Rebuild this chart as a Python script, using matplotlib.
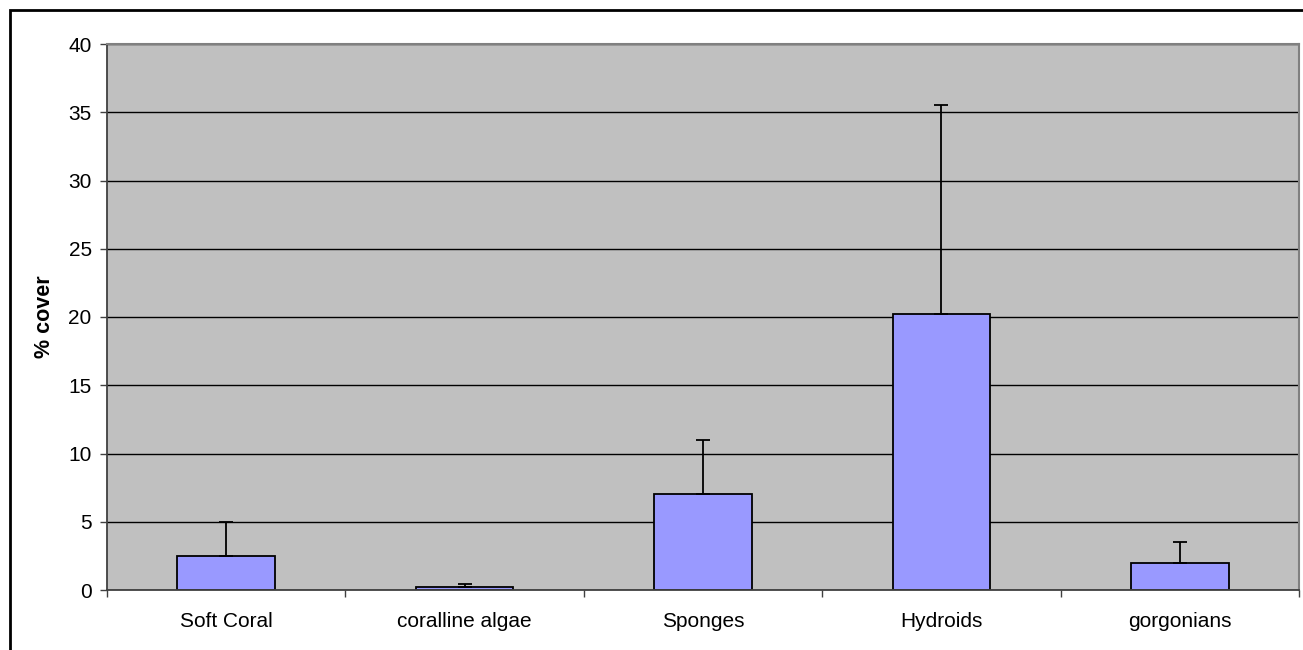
import matplotlib
matplotlib.use("Agg")
import matplotlib.pyplot as plt
from matplotlib.patches import Rectangle
import numpy as np

# data
categories = ["Soft Coral", "coralline algae", "Sponges", "Hydroids", "gorgonians"]
cover = [2.5, 0.2, 7.0, 20.2, 2.0]
cover_err = [2.5, 0.25, 4.0, 15.3, 1.5]
y_ticks = [0, 5, 10, 15, 20, 25, 30, 35, 40]

plt.rcParams["font.family"] = ["Liberation Sans", "DejaVu Sans"]

W, H = 1303, 650
fig = plt.figure(figsize=(W / 100, H / 100), dpi=100)
fig.patch.set_facecolor("white")

# plot area in pixels: x 107..1299, y 44..590
ax = fig.add_axes([107 / W, 1 - 590 / H, (1299 - 107) / W, (590 - 44) / H])
ax.set_facecolor("#C0C0C0")

x = np.arange(len(categories))
ax.bar(x, cover, width=0.41, color="#9999FF", edgecolor="black", linewidth=1.3, zorder=3)
ax.errorbar(x, cover, yerr=[np.zeros(len(cover)), cover_err], fmt="none",
            ecolor="black", elinewidth=1.3, capsize=4.7, capthick=1.3, zorder=4)

ax.set_ylim(0, 40)
ax.set_xlim(-0.5, len(categories) - 0.5)
ax.set_yticks(y_ticks)
ax.yaxis.grid(True, color="black", linewidth=1.0, zorder=1)
ax.set_axisbelow(True)

ax.set_xticks(x)
ax.set_xticklabels(categories, fontsize=15)
ax.set_xticks(np.arange(-0.5, len(categories)), minor=True)
ax.tick_params(axis="x", which="major", length=0, pad=16)
ax.tick_params(axis="x", which="minor", length=5, width=1, color="#404040", direction="out")
ax.tick_params(axis="y", length=5, width=1, color="#404040", direction="out", pad=6, labelsize=15)

for side in ["top", "right"]:
    ax.spines[side].set_color("#808080")
    ax.spines[side].set_linewidth(1.5)
for side in ["left", "bottom"]:
    ax.spines[side].set_color("#404040")
    ax.spines[side].set_linewidth(1.3)
for sp in ax.spines.values():
    sp.set_zorder(5)

fig.text(45 / W, 1 - 317 / H, "% cover", rotation=90, ha="center", va="center",
         fontsize=15.5, fontweight="bold")

# outer chart border (only left/top visible in the reference)
fig.patches.append(Rectangle((10 / W, -0.1), 1.2, 1 - 10 / H + 0.1, transform=fig.transFigure,
                             fill=False, edgecolor="black", linewidth=2, clip_on=False))

fig.savefig("out.png", dpi=100)
